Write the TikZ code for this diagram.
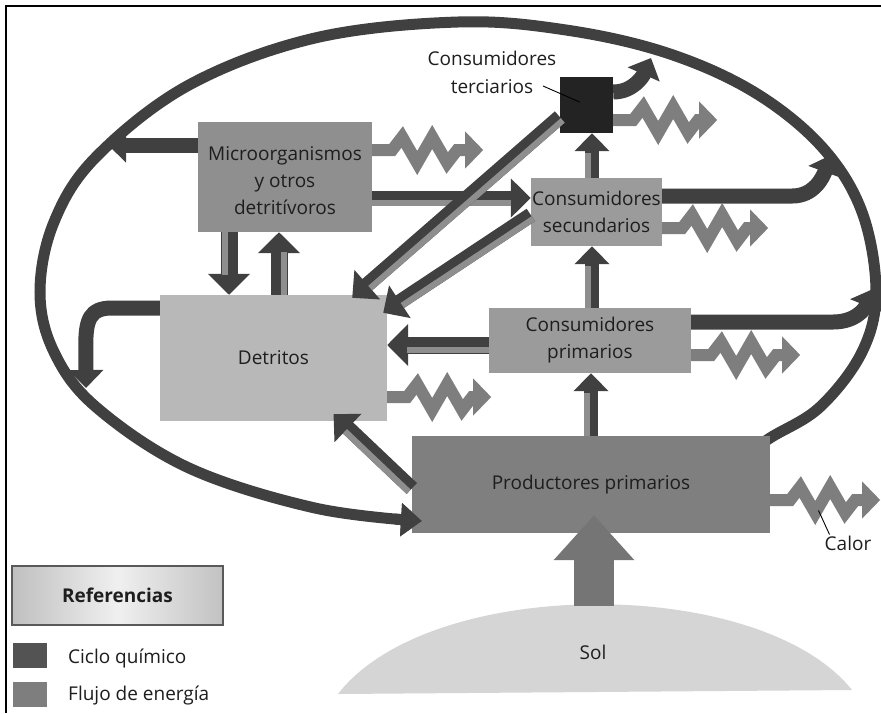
\documentclass[tikz,border=0pt]{standalone}
\usepackage{fontspec}
\setmainfont{Open Sans}
\usetikzlibrary{arrows.meta,calc}

\definecolor{cycle}{HTML}{404040}
\definecolor{energy}{HTML}{7E7E7E}
\definecolor{stripecol}{HTML}{8E8E8E}
\definecolor{microfill}{HTML}{8F8F8F}
\definecolor{detfill}{HTML}{B8B8B8}
\definecolor{consfill}{HTML}{9B9B9B}
\definecolor{prodfill}{HTML}{7F7F7F}
\definecolor{terfill}{HTML}{232323}
\definecolor{sunfill}{HTML}{D5D5D5}
\definecolor{sunray}{HTML}{757575}
\definecolor{inktext}{HTML}{1E1E1E}

% heat loss: straight start, two zigzags, arrow
\newcommand\heatzig[2]{\draw[heat] #1 -- ++(20,0) -- ++(10,-13) -- ++(15,26)
  -- ++(15,-26) -- ++(15,26) -- ++(10,-13) -- ++(#2,0);}
% two-tone transfer arrow: dark body with a lighter stripe on one side
\newcommand\duoflow[4]{%
  \draw[#1] (#3) -- (#4);
  \draw[stripe, transform canvas={shift={#2}}] (#3) -- (#4);}

\begin{document}
\begin{tikzpicture}[x=1pt,y=-1pt,
  every node/.style={text=inktext},
  font=\fontsize{19}{27}\selectfont,
  box/.style={rectangle, inner sep=0pt, align=center},
  chem/.style={draw=cycle, line width=15pt, -{Triangle[length=20pt,width=38pt]}},
  chemwide/.style={draw=cycle, line width=17pt, -{Triangle[length=21pt,width=41pt]}},
  chemthin/.style={draw=cycle, line width=14pt, -{Triangle[length=18pt,width=34pt]}},
  stripe/.style={draw=stripecol, line width=6pt, shorten >=20pt},
  outloop/.style={draw=cycle, line width=15pt, -{Triangle[length=18pt,width=34pt]}},
  loopline/.style={draw=cycle, line width=11pt, -{Triangle[length=21pt,width=32pt]}},
  heat/.style={draw=energy, line width=12pt, line join=miter, miter limit=10,
    -{Triangle[length=18pt,width=36pt]}},
  sunarrow/.style={draw=sunray, line width=40pt, -{Triangle[length=45pt,width=78pt]}},
  leader/.style={draw=black, line width=0.9pt}]

\useasboundingbox (0,0) rectangle (881,713);
\fill[white] (0,0) rectangle (881,713);

% page frame
\draw[line width=2pt] (881,6) -- (6,6) -- (6,713);

% the sun
\fill[sunfill] (338,694) .. controls (430,575) and (760,575) .. (852,690) -- cycle;
\node (sol) at (593,652) {Sol};

% chemical cycle loop
\draw[loopline] plot[smooth, tension=0.6] coordinates {(735,462) (770,438) (820,407) (862,352)
  (876,292) (862,212) (822,147) (754,92) (667,53) (566,30) (458,22) (315,38) (189,85)
  (96,157) (54,222) (40,292) (54,352) (96,407) (189,468) (315,508) (422,521)};

% compartments
\node[box, fill=microfill, minimum width=174pt, minimum height=110pt] (mi) at (285,177) {};
\node[box] (mitext) at ([yshift=-4pt]mi.center) {Microorganismos\\y otros\\detritívoros};
\node[box, fill=detfill, minimum width=227pt, minimum height=126pt] (de) at (273.5,358) {Detritos};
\node[box, fill=terfill, minimum width=53pt, minimum height=56pt] (te) at (586.5,105) {};
\node[box, fill=consfill, minimum width=131pt, minimum height=68pt] (se) at (596.5,212)
  {Consumidores\\secundarios};
\node[box, fill=consfill, minimum width=202pt, minimum height=65pt] (pr) at (590,340.5)
  {Consumidores\\primarios};
\node[box, fill=prodfill, minimum width=358pt, minimum height=97pt] (pp) at (591,484.5)
  {Productores primarios};

% loop arrow head over the producers box
\begin{scope}
  \clip (395,495) rectangle (440,550);
  \draw[loopline] plot[smooth, tension=0.6] coordinates {(735,462) (770,438) (820,407) (862,352)
    (876,292) (862,212) (822,147) (754,92) (667,53) (566,30) (458,22) (315,38) (189,85)
    (96,157) (54,222) (40,292) (54,352) (96,407) (189,468) (315,508) (422,521)};
\end{scope}

% returns to the cycle
\coordinate (a1) at ([yshift=32pt]mi.west);
\coordinate (aEnd) at (108,145);
\coordinate (b1) at ([yshift=50pt]de.west);
\coordinate (bEnd) at (86,388);
\coordinate (m1) at ([yshift=13pt]te.east);
\coordinate (mEnd) at (651,58);
\coordinate (n1) at ([yshift=16pt]se.east);
\coordinate (nEnd) at (831,155);
\coordinate (o1) at ([yshift=18.5pt]pr.east);
\coordinate (oEnd) at (873,289);
\draw[outloop] (a1) -- (aEnd);
\draw[outloop] (b1) -- ++(-48,0) .. controls +(-22,0) and +(0,-25) .. ++(-26,37) -- (bEnd);
\draw[outloop] (m1) .. controls +(20,0) and +(-8,18) .. (mEnd);
\draw[outloop] (n1) -- ++(130,0) .. controls +(22,0) and +(-8,22) .. (nEnd);
\draw[outloop] (o1) -- ++(142,0) .. controls +(22,0) and +(-8,20) .. (oEnd);

% transfers between compartments
\coordinate (c1) at ([xshift=-56pt]mi.south);
\coordinate (c2) at (c1 |- de.north);
\coordinate (d1) at ([xshift=5.5pt]de.north);
\coordinate (d2) at (d1 |- mi.south);
\coordinate (e1) at ([yshift=-21pt]mi.east);
\coordinate (e2) at (e1 -| se.west);
\coordinate (f1) at ([yshift=-12pt]te.west);
\coordinate (f2) at ([xshift=-35pt,yshift=-3pt]de.north east);
\coordinate (g1) at ([yshift=-3pt]se.west);
\coordinate (g2) at ([xshift=-4pt,yshift=-18pt]de.north east);
\coordinate (h1) at ([yshift=-4.5pt]pr.west);
\coordinate (h2) at (h1 -| de.east);
\coordinate (i1) at ([yshift=-4pt]pp.west);
\coordinate (i2) at ([xshift=60pt,yshift=7pt]de.south);
\coordinate (j1) at ([xshift=2pt]pr.north);
\coordinate (j2) at (j1 |- se.south);
\coordinate (k1) at (pp.north);
\coordinate (k2) at (k1 |- pr.south);
\coordinate (l1) at ([xshift=-4.5pt]se.north);
\coordinate (l2) at (l1 |- te.south);

\duoflow{chemwide}{(-4.5pt,0pt)}{c1}{c2}
\duoflow{chemwide}{(4.5pt,0pt)}{d1}{d2}
\duoflow{chem}{(0pt,-4.5pt)}{e1}{e2}
\duoflow{chem}{(2.95pt,-3.4pt)}{f1}{f2}
\duoflow{chem}{(2.5pt,-3.7pt)}{g1}{g2}
\duoflow{chemwide}{(0pt,-4.5pt)}{h1}{h2}
\duoflow{chem}{(-3.1pt,-3.3pt)}{i1}{i2}
\duoflow{chemthin}{(-4pt,0pt)}{j1}{j2}
\duoflow{chemthin}{(-4pt,0pt)}{k1}{k2}
\duoflow{chemthin}{(-4pt,0pt)}{l1}{l2}

% heat given off
\heatzig{([yshift=27pt]mi.east)}{26}
\heatzig{([yshift=-15pt]te.east)}{19}
\heatzig{([yshift=-16pt]se.east)}{21}
\heatzig{([yshift=-14.5pt]pr.east)}{24}
\heatzig{([yshift=-39pt]de.east)}{19}
\heatzig{([yshift=-15.5pt]pp.east)}{25}

% sunlight into the producers
\coordinate (sunTop) at (594,606);
\coordinate (sunTip) at ([xshift=3pt,yshift=18pt]pp.south);
\draw[sunarrow] (sunTop) -- (sunTip);

% labels
\node[box, font=\fontsize{19}{28}\selectfont] (tl) at (492,72) {Consumidores\\terciarios};
\coordinate (tlead) at (543,86);
\draw[leader] (tlead) -- ($(tlead)!0.85!(te.center)$);
\node[inner sep=0pt] (calor) at (848,543) {Calor};
\draw[leader] ([xshift=5pt,yshift=1pt]calor.north west) -- ++(-11,-24);

% key
\node[box, draw=black!65, line width=1.5pt, left color=black!25, right color=black!24,
  middle color=black!6, minimum width=211pt, minimum height=59pt,
  font=\fontsize{19}{23}\selectfont\bfseries] (refs) at (117.5,595.5) {Referencias};
\node[box, fill=cycle!90, minimum width=34pt, minimum height=25pt] (keyA) at (30,655) {};
\node[box, fill=energy, minimum width=34pt, minimum height=25pt] (keyB) at (30,694) {};
\node[inner sep=0pt, anchor=base west] (keyAt) at (68,663) {Ciclo químico};
\node[inner sep=0pt, anchor=base west] (keyBt) at (68,700) {Flujo de energía};
\end{tikzpicture}
\end{document}
